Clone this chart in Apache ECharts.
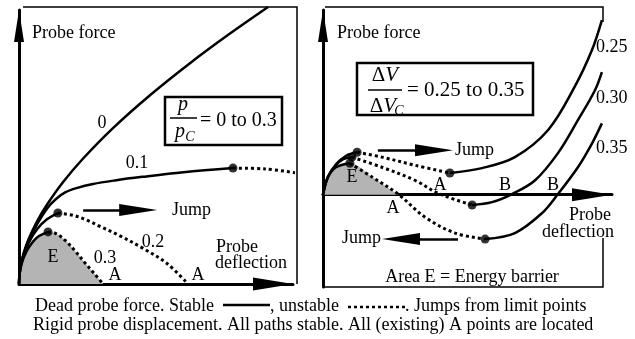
<!DOCTYPE html>
<html>
<head>
<meta charset="utf-8">
<script src="https://cdn.jsdelivr.net/npm/echarts@6/dist/echarts.min.js"></script>
<style>
  html, body { margin: 0; padding: 0; background: #fff; }
  #chart { width: 635px; height: 339px; }
</style>
</head>
<body>
<div id="chart"></div>
<script>
// ---- Left panel: dead probe force, p/pC = 0 .. 0.3 (deflection, force) ----
const leftCurve0 = [[0,0],[0.2,3.8],[0.7,7.1],[1.8,11.6],[3.6,16.6],[6.6,22.9],[10.2,28.9],[16.1,37.2],[23.4,45.8],[34.3,56.9],[47.8,68.9],[62.4,80.6],[77.0,91.4],[90.9,101.1]];
const leftCurve01Stable = [[0,0],[0.2,3.7],[0.7,7.0],[1.8,11.3],[3.6,16.0],[6.6,21.8],[10.2,27.5],[13.5,31.0],[17,33.5],[21,35.0],[27,36.5],[35,37.8],[45,39.1],[60,40.8],[78.1,42.3]];
const leftCurve01Unstable = [[78.1,42.3],[89.8,42.0],[101.5,40.5]];
const leftCurve02Stable = [[0,0],[0.2,3.6],[0.7,6.8],[1.8,10.8],[3.6,15.2],[6.6,20.0],[10.2,23.6],[14.2,25.9]];
const leftCurve02Unstable = [[14.2,25.9],[20,25.0],[25,23.2],[29.6,21.0],[37,17.5],[45.3,13.0],[54.0,7.5],[61.7,0]];
const leftCurve03Stable = [[0,0],[0.2,3.4],[0.7,6.3],[1.8,9.8],[3.6,13.4],[6.6,17.0],[10.6,19.0]];
const leftCurve03Unstable = [[10.6,19.0],[13.5,18.4],[17,15.8],[20.5,12.0],[24,7.8],[27.5,3.8],[30.7,0]];
const leftLimitPoints = [[78.1,42.3],[14.2,25.9],[10.6,19.0]];
const leftJump = [[23.4,27.0],[43.5,27.0]];

// ---- Right panel: rigid probe displacement, dV/dVc = 0.25 .. 0.35 ----
const right025Rise = [[0,0],[1.7,6.1],[4.5,10.5],[8.0,13.5],[11.8,14.7]];
const right025Unstable = [[11.8,14.7],[20.4,13.0],[31.8,10.2],[43.9,7.5]];
const right025Stable = [[43.9,7.5],[55.0,9.2],[66.4,13.0],[77.9,22.4],[87.2,37.6],[93.1,50.2],[96.5,60.5]];
const right030Rise = [[0,0],[1.7,6.1],[4.5,10.2],[7.0,12.3],[10.0,13.0]];
const right030Unstable = [[10.0,13.0],[20.4,9.5],[31.8,5.0],[39.8,0.5],[51.6,-3.6]];
const right030Stable = [[51.6,-3.6],[58.5,-2.6],[65.4,0.2],[73.4,5.0],[81.3,14.4],[88.2,25.8],[94.1,36.2],[96.5,42.5]];
const right035Rise = [[0,0],[1.7,6.1],[4.5,9.5],[9.3,10.9]];
const right035Unstable = [[9.3,10.9],[17.0,6.1],[26.0,0.2],[35.3,-7.8],[45.7,-13.3],[56.1,-15.4]];
const right035Stable = [[56.1,-15.4],[66.4,-13.3],[75.8,-6.4],[81.3,0.2],[88.2,9.5],[93.1,17.8],[96.5,24.7]];
const rightBarrier = [[0,0],[1.7,6.1],[4.5,9.5],[9.3,10.9],[17.0,6.1],[26.0,0]];
const rightLimitPoints = [[11.8,14.7],[10.0,13.0],[9.3,10.9],[43.9,7.5],[51.6,-3.6],[56.1,-15.4]];
const rightJumpUp = [[19.0,15.4],[38.4,15.4]];
const rightJumpDown = [[46.7,-15.4],[27.0,-15.4]];

const FONT = '"Liberation Serif", "Times New Roman", serif';
const INK = '#000';
const BARRIER = '#b4b4b4';

const chart = echarts.init(document.getElementById('chart'), null, { renderer: 'canvas' });

function axisPair(gridIndex, xr, yr, arrowX, arrowY) {
  return {
    x: {
      type: 'value', gridIndex, min: xr[0], max: xr[1],
      axisLine: { onZero: true, lineStyle: { color: INK, width: 3 },
        symbol: ['none', 'triangle'], symbolSize: arrowX, symbolOffset: [0, -arrowX[1] / 2] },
      axisTick: { show: false }, axisLabel: { show: false }, splitLine: { show: false }
    },
    y: {
      type: 'value', gridIndex, min: yr[0], max: yr[1],
      axisLine: { onZero: false, lineStyle: { color: INK, width: 3 },
        symbol: ['none', 'triangle'], symbolSize: arrowY, symbolOffset: [0, -arrowY[1] / 2] },
      axisTick: { show: false }, axisLabel: { show: false }, splitLine: { show: false }
    }
  };
}
const L = axisPair(0, [0, 100], [0, 100], [13, 40], [10, 32]);
const R = axisPair(1, [0, 100], [-32, 64], [13, 40], [10, 32]);

function curve(data, axis, dotted) {
  return {
    type: 'line', data, xAxisIndex: axis, yAxisIndex: axis,
    smooth: 0.35, symbol: 'none', clip: false, silent: true, z: 3,
    lineStyle: { color: INK, width: dotted ? 3 : 2.5, type: dotted ? [3, 3] : 'solid', cap: 'butt' }
  };
}
function area(data, axis) {
  return {
    type: 'line', data, xAxisIndex: axis, yAxisIndex: axis,
    smooth: 0.35, symbol: 'none', clip: false, silent: true, z: 1,
    lineStyle: { width: 0 }, areaStyle: { color: BARRIER, opacity: 1 }
  };
}
function dots(data, axis) {
  return {
    type: 'scatter', data, xAxisIndex: axis, yAxisIndex: axis,
    symbolSize: 9, itemStyle: { color: INK }, clip: false, silent: true, z: 4
  };
}
function jump(seg, axis) {
  return {
    type: 'line', data: [], xAxisIndex: axis, yAxisIndex: axis, silent: true,
    markLine: {
      silent: true, animation: false,
      symbol: ['none', 'triangle'], symbolSize: [12, 38],
      lineStyle: { color: INK, width: 2.5, type: 'solid' },
      label: { show: false },
      data: [[{ coord: seg[0] }, { coord: seg[1] }]]
    }
  };
}

function txt(x, y, s, opts) {
  return Object.assign({
    type: 'text', x, y, silent: true, z: 10,
    style: Object.assign({ text: s, font: '18px ' + FONT, fill: INK, align: 'center', verticalAlign: 'middle' }, (opts && opts.style) || {})
  }, opts && opts.props);
}
function leftTxt(x, y, s, size) {
  return txt(x, y, s, { style: { align: 'left', font: (size || 18) + 'px ' + FONT } });
}
function seg(points, width, dash) {
  return { type: 'polyline', silent: true, z: 9,
    shape: { points }, style: { stroke: INK, lineWidth: width, fill: null, lineDash: dash || null } };
}
const deltaRich = { n: { font: '21px ' + FONT }, i: { font: 'italic 21px ' + FONT } };

const graphics = [
  // panel frames
  seg([[23, 7], [297, 7], [297, 284]], 1.5),
  seg([[325, 7], [603, 7], [603, 22]], 1.5),
  seg([[603, 238], [603, 287], [323, 287]], 1.5),

  // left panel text
  leftTxt(32, 33, 'Probe force'),
  txt(102, 123, '0'),
  txt(137, 163, '0.1'),
  txt(153, 242, '0.2'),
  txt(105, 258, '0.3'),
  txt(115, 275, 'A'),
  txt(198, 275, 'A'),
  txt(53, 257, 'E'),
  leftTxt(172, 210, 'Jump'),
  txt(237, 247, 'Probe'),
  txt(251, 263, 'deflection'),
  { type: 'rect', silent: true, z: 8, shape: { x: 165, y: 97, width: 117, height: 48 },
    style: { fill: '#fff', stroke: INK, lineWidth: 2.5 } },
  txt(183, 105, 'p', { style: { font: 'italic 20px ' + FONT } }),
  seg([[170, 118], [197, 118]], 1.5),
  txt(180, 132, 'p', { style: { font: 'italic 20px ' + FONT } }),
  txt(190, 137, 'C', { style: { font: 'italic 14px ' + FONT } }),
  leftTxt(200, 121, '= 0 to 0.3', 20),

  // right panel text
  leftTxt(337, 33, 'Probe force'),
  { type: 'rect', silent: true, z: 8, shape: { x: 357, y: 63, width: 176, height: 52 },
    style: { fill: '#fff', stroke: INK, lineWidth: 2.5 } },
  txt(385, 75, '{n|Δ}{i|V}', { style: { rich: deltaRich } }),
  seg([[368, 90], [402, 90]], 1.5),
  txt(383, 106, '{n|Δ}{i|V}', { style: { rich: deltaRich } }),
  txt(399, 111, 'C', { style: { font: 'italic 14px ' + FONT } }),
  leftTxt(407, 90, '= 0.25 to 0.35', 21),
  leftTxt(455, 150, 'Jump'),
  leftTxt(342, 238, 'Jump'),
  txt(352, 177, 'E'),
  txt(440, 185, 'A'),
  txt(505, 185, 'B'),
  txt(553, 185, 'B'),
  txt(393, 208, 'A'),
  leftTxt(596, 47, '0.25'),
  leftTxt(596, 98, '0.30'),
  leftTxt(596, 148, '0.35'),
  txt(590, 215, 'Probe'),
  txt(578, 232, 'deflection'),
  txt(472, 277, 'Area E = Energy barrier'),

  // caption
  leftTxt(35, 306, 'Dead probe force. Stable'),
  seg([[223, 305], [270, 305]], 2.5),
  leftTxt(270, 306, ', unstable'),
  seg([[348, 307], [405, 307]], 2.5, [3, 3]),
  leftTxt(405, 306, '. Jumps from limit points'),
  leftTxt(33, 325, 'Rigid probe displacement. All paths stable. All (existing) A points are located')
];

const option = {
  animation: false,
  backgroundColor: '#fff',
  grid: [
    { left: 19, top: 10, width: 274, height: 274 },
    { left: 323, top: 10, width: 289, height: 277 }
  ],
  xAxis: [L.x, R.x],
  yAxis: [L.y, R.y],
  series: [
    area(leftCurve03Stable.concat(leftCurve03Unstable.slice(1)), 0),
    curve(leftCurve0, 0, false),
    curve(leftCurve01Stable, 0, false),
    curve(leftCurve01Unstable, 0, true),
    curve(leftCurve02Stable, 0, false),
    curve(leftCurve02Unstable, 0, true),
    curve(leftCurve03Stable, 0, false),
    curve(leftCurve03Unstable, 0, true),
    dots(leftLimitPoints, 0),
    jump(leftJump, 0),

    area(rightBarrier, 1),
    curve(right025Rise, 1, false),
    curve(right025Unstable, 1, true),
    curve(right025Stable, 1, false),
    curve(right030Rise, 1, false),
    curve(right030Unstable, 1, true),
    curve(right030Stable, 1, false),
    curve(right035Rise, 1, false),
    curve(right035Unstable, 1, true),
    curve(right035Stable, 1, false),
    dots(rightLimitPoints, 1),
    jump(rightJumpUp, 1),
    jump(rightJumpDown, 1)
  ],
  graphic: graphics
};
chart.setOption(option);
</script>
</body>
</html>
